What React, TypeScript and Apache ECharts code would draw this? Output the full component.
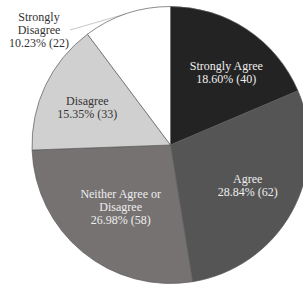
import React, { useEffect, useRef } from "react";
import * as echarts from "echarts";

const categories = ["Strongly Agree", "Agree", "Neither Agree or Disagree", "Disagree", "Strongly Disagree"];
const labelTexts = ["Strongly Agree", "Agree", "Neither Agree or\nDisagree", "Disagree", "Strongly\nDisagree"];
const values = [40, 62, 58, 33, 22];
const colors = ["#232323", "#555555", "#767272", "#d1d0d0", "#ffffff"];
const textColors = ["#eeeeee", "#eeeeee", "#eeeeee", "#333333", "#333333"];
const labelOffsets: [number, number][] = [[16, -12], [14, 6], [-4, 6], [-18, -6], [0, 0]];

const FONT = "'Liberation Serif', 'DejaVu Serif', serif";

export default function App() {
  const ref = useRef<HTMLDivElement>(null);
  useEffect(() => {
    document.body.style.margin = "0";
    const chart = echarts.init(ref.current!, undefined, { renderer: "svg" });
    const total = values.reduce((a, b) => a + b, 0);
    const data = values.map((v, i) => {
      const pct = ((v / total) * 100).toFixed(2);
      const lines = (labelTexts[i] + "\n" + pct + "% (" + v + ")").split("\n");
      const isOutside = i === 4;
      return {
        name: categories[i],
        value: v,
        itemStyle: { color: colors[i] },
        label: {
          position: isOutside ? "outside" : "inside",
          offset: labelOffsets[i],
          color: textColors[i],
          formatter: lines.map((l) => "{a|" + l + "}").join("\n"),
          rich: {
            a: {
              align: "center",
              color: textColors[i],
              fontFamily: FONT,
              fontSize: 12,
              lineHeight: 13,
            },
          },
        },
        labelLine: isOutside
          ? { show: true, length: 5, length2: 5, lineStyle: { color: "#c8c8c8", width: 1 } }
          : { show: false },
      };
    });
    chart.setOption({
      animation: false,
      series: [
        {
          type: "pie",
          center: [170.5, 145],
          radius: 138.5,
          startAngle: 90,
          clockwise: true,
          avoidLabelOverlap: false,
          itemStyle: { borderColor: "#5a5a5a", borderWidth: 0.7 },
          label: { fontFamily: FONT, fontSize: 12 },
          emphasis: { disabled: true },
          labelLayout: (params: any) => {
            if (params.dataIndex !== 4) return {};
            const pts = params.labelLinePoints;
            const p0 = pts ? pts[0] : [127, 14];
            return {
              x: 69,
              y: 30,
              align: "right",
              verticalAlign: "middle",
              labelLinePoints: [p0, p0, [70, 30]],
            };
          },
          data,
        },
      ],
    });
    return () => chart.dispose();
  }, []);
  return <div ref={ref} style={{ position: "absolute", left: 0, top: 0, width: 303, height: 287 }} />;
}
